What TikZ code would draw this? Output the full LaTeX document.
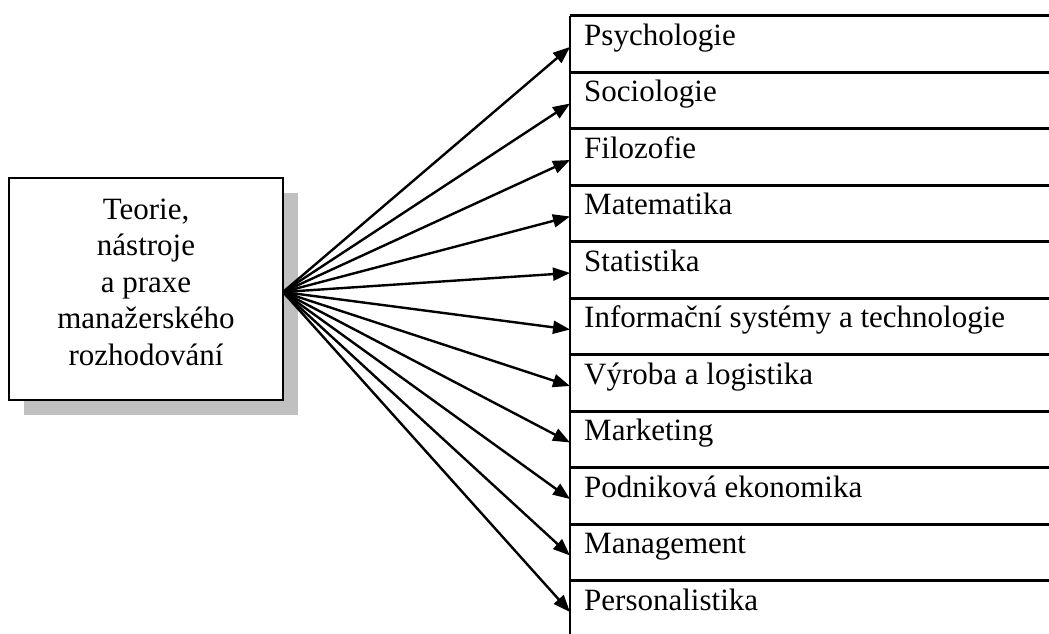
\documentclass[tikz,border=0pt]{standalone}
\usepackage{fontspec}
\setmainfont{Liberation Serif}
\usetikzlibrary{arrows.meta,shadows}
\definecolor{shadowgray}{RGB}{192,192,192}
\tikzset{
  mainbox/.style={draw=black, line width=2.6pt, fill=white, minimum width=274pt, minimum height=222pt, inner sep=0pt,
    general shadow={fill=shadowgray, shadow xshift=15pt, shadow yshift=-15pt}},
  maintext/.style={align=center, font=\fontsize{31}{36.5}\selectfont, inner sep=0pt},
  rowlabel/.style={anchor=base west, font=\fontsize{31}{36}\selectfont, inner sep=0pt},
  rowline/.style={line width=2.6pt},
  link/.style={line width=2.4pt, -{Triangle[length=17pt,width=13pt]}}
}
\begin{document}
\begin{tikzpicture}[x=1pt,y=-1pt]
\useasboundingbox (0,0) rectangle (1049,634);
% left box
\node[mainbox] (box) at (146,289) {};
\node[maintext] (boxtext) at (146,282) {Teorie,\\nástroje\\a praxe\\manažerského\\rozhodování};
\coordinate (src) at (283,292);
% right column
\coordinate (ctop) at (570,15.7);
\coordinate (cbot) at (570,634);
\draw[rowline] (ctop) -- (cbot);
\foreach \i/\lab in {0/Psychologie,1/Sociologie,2/Filozofie,3/Matematika,4/Statistika,
  5/Informační systémy a technologie,6/Výroba a logistika,7/Marketing,8/Podniková ekonomika,
  9/Management,10/Personalistika}{
  \pgfmathsetmacro{\top}{15.7+56.5*\i}
  \coordinate (l\i) at (570,\top);
  \coordinate (r\i) at (1049,\top);
  \draw[rowline] (l\i) -- (r\i);
  \node[rowlabel] (lab\i) at (584,\top+29.5) {\lab};
  \coordinate (tip\i) at (570,\top+31.3);
  \draw[link] (src) -- (tip\i);
}
\end{tikzpicture}
\end{document}
